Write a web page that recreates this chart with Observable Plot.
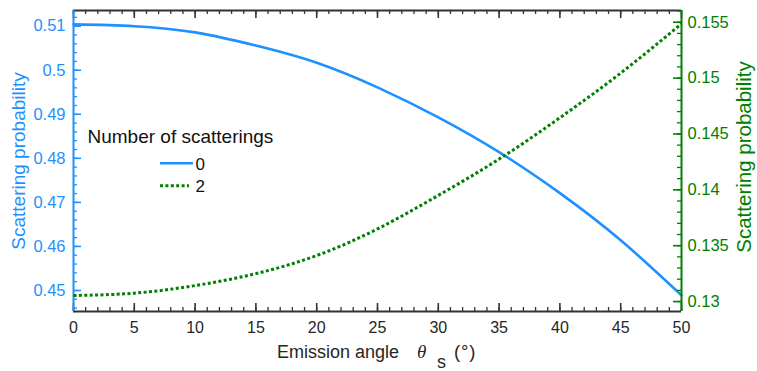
<!DOCTYPE html>
<html><head><meta charset="utf-8">
<script src="https://cdn.jsdelivr.net/npm/d3@7"></script>
<script src="https://cdn.jsdelivr.net/npm/@observablehq/plot@0.6"></script>
<style>
body{margin:0;background:#fff;}
#chart{position:relative;width:757px;height:371px;}
#chart svg{position:absolute;left:0;top:0;}
</style></head><body><div id="chart"></div>
<script>
// ---- data ----
const angles = [0, 5, 10, 15, 20, 25, 30, 35, 40, 45, 50];
const scat0 = [0.5104, 0.5100, 0.5086, 0.5056, 0.5017, 0.4961, 0.4893, 0.4814, 0.4721, 0.4614, 0.4489];
const scat2 = [0.13054, 0.13075, 0.13143, 0.13250, 0.13412, 0.13650, 0.13950, 0.14275, 0.14645, 0.15045, 0.15486];
const seriesNames = ["0", "2"];
const legendTitle = "Number of scatterings";
const xTicks = [0, 5, 10, 15, 20, 25, 30, 35, 40, 45, 50];
const xTickLabels = ["0", "5", "10", "15", "20", "25", "30", "35", "40", "45", "50"];
const leftTicks = [0.45, 0.46, 0.47, 0.48, 0.49, 0.50, 0.51];
const leftTickLabels = ["0.45", "0.46", "0.47", "0.48", "0.49", "0.5", "0.51"];
const rightTicks = [0.13, 0.135, 0.14, 0.145, 0.15, 0.155];
const rightTickLabels = ["0.13", "0.135", "0.14", "0.145", "0.15", "0.155"];
const xDomain = [0, 50];
const leftDomain = [0.44523, 0.51356];
const rightDomain = [0.12911, 0.15605];
const yLabel = "Scattering probability";

// ---- layout / style ----
const W = 757, H = 371;
const M = {left: 73, right: 76, top: 10, bottom: 60};
const innerW = W - M.left - M.right;
const innerH = H - M.top - M.bottom;
const BLUE = "#1e90ff", GREEN = "#008000", DARK = "#333333";
const FONT = "'Liberation Sans', Arial, Helvetica, sans-serif";

const xMinor = d3.range(0, 51);
const leftMinor = d3.range(223, 257).map(i => +(i * 0.002).toFixed(3));
const rightMinor = d3.range(130, 157).map(i => +(i * 0.001).toFixed(3));

const data0 = angles.map((a, i) => ({angle: a, p: scat0[i]}));
const data2 = angles.map((a, i) => ({angle: a, p: scat2[i]}));

const common = {
  width: W, height: H,
  marginLeft: M.left, marginRight: M.right, marginTop: M.top, marginBottom: M.bottom,
  style: {fontFamily: FONT, fontSize: "16px", background: "transparent", overflow: "visible"}
};

const plotA = Plot.plot({
  ...common,
  x: {domain: xDomain},
  y: {domain: leftDomain},
  marks: [
    Plot.tickX(xMinor, {x: d => d, insetBottom: innerH - 4, stroke: DARK, strokeWidth: 1.3}),
    Plot.tickX(xMinor, {x: d => d, insetTop: innerH - 4, stroke: DARK, strokeWidth: 1.3}),
    Plot.tickX(xTicks, {x: d => d, insetBottom: innerH - 8, stroke: DARK, strokeWidth: 1.6}),
    Plot.tickX(xTicks, {x: d => d, insetTop: innerH - 8, stroke: DARK, strokeWidth: 1.6}),
    Plot.tickY(leftMinor, {y: d => d, insetRight: innerW - 4, stroke: BLUE, strokeWidth: 1.3}),
    Plot.tickY(leftTicks, {y: d => d, insetRight: innerW - 8, stroke: BLUE, strokeWidth: 1.6}),
    Plot.ruleY([leftDomain[0]], {stroke: DARK, strokeWidth: 1.8}),
    Plot.ruleY([leftDomain[1]], {stroke: DARK, strokeWidth: 1.8}),
    Plot.ruleX([xDomain[0]], {stroke: BLUE, strokeWidth: 2}),
    Plot.axisX({anchor: "bottom", ticks: xTicks, tickSize: 0, tickPadding: 10, label: null,
      tickFormat: d => xTickLabels[xTicks.indexOf(d)], fill: "#262626", fontSize: 16}),
    Plot.axisY({anchor: "left", ticks: leftTicks, tickSize: 0, tickPadding: 8, label: null,
      tickFormat: d => leftTickLabels[leftTicks.indexOf(d)], fill: BLUE, fontSize: 16.5}),
    Plot.line(data0, {x: "angle", y: "p", stroke: BLUE, strokeWidth: 2.6, curve: "natural"})
  ]
});

const plotB = Plot.plot({
  ...common,
  x: {domain: xDomain, axis: null},
  y: {domain: rightDomain},
  marks: [
    Plot.tickY(rightMinor, {y: d => d, insetLeft: innerW - 4, stroke: GREEN, strokeWidth: 1.3}),
    Plot.tickY(rightTicks, {y: d => d, insetLeft: innerW - 8, stroke: GREEN, strokeWidth: 1.6}),
    Plot.ruleX([xDomain[1]], {stroke: GREEN, strokeWidth: 2}),
    Plot.axisY({anchor: "right", ticks: rightTicks, tickSize: 0, tickPadding: 6, label: null,
      tickFormat: d => rightTickLabels[rightTicks.indexOf(d)], fill: GREEN, fontSize: 16.5}),
    Plot.line(data2, {x: "angle", y: "p", stroke: GREEN, strokeWidth: 3, strokeDasharray: "3,2.4",
      strokeLinecap: "butt", curve: "natural"})
  ]
});

const chart = document.getElementById("chart");
chart.appendChild(plotA);
chart.appendChild(plotB);

// ---- axis titles and legend ----
const svg = d3.select(plotB);
svg.append("text")
  .attr("transform", "translate(20,161) rotate(-90)")
  .attr("text-anchor", "middle").attr("dominant-baseline", "middle")
  .attr("font-family", FONT).attr("font-size", 19).attr("fill", BLUE)
  .text(yLabel);
svg.append("text")
  .attr("transform", "translate(746,157) rotate(-90)")
  .attr("text-anchor", "middle").attr("dominant-baseline", "middle")
  .attr("font-family", FONT).attr("font-size", 20.5).attr("fill", GREEN)
  .text(yLabel);

const xl = svg.append("g").attr("font-family", FONT).attr("fill", "#262626").attr("text-anchor", "start");
xl.append("text").attr("x", 277).attr("y", 357.5).attr("font-size", 18).text("Emission angle");
xl.append("text").attr("x", 417).attr("y", 357.5).attr("font-size", 19)
  .attr("font-family", "'Liberation Serif', 'DejaVu Serif', serif").attr("font-style", "italic").text("θ");
xl.append("text").attr("x", 437).attr("y", 367.5).attr("font-size", 18).text("s");
xl.append("text").attr("x", 454).attr("y", 357.5).attr("font-size", 18.5).attr("letter-spacing", 0.8).text("(°)");

const lg = svg.append("g").attr("font-family", FONT).attr("fill", "#111").attr("text-anchor", "start");
lg.append("text").attr("x", 87.5).attr("y", 143.3).attr("font-size", 19).text(legendTitle);
lg.append("line").attr("x1", 160).attr("x2", 193).attr("y1", 163.3).attr("y2", 163.3)
  .attr("stroke", BLUE).attr("stroke-width", 2.6);
lg.append("text").attr("x", 195.5).attr("y", 169.8).attr("font-size", 17).text(seriesNames[0]);
lg.append("line").attr("x1", 160).attr("x2", 189).attr("y1", 185.7).attr("y2", 185.7)
  .attr("stroke", GREEN).attr("stroke-width", 3).attr("stroke-dasharray", "3,2.4");
lg.append("text").attr("x", 195.5).attr("y", 192).attr("font-size", 17).text(seriesNames[1]);
</script></body></html>
